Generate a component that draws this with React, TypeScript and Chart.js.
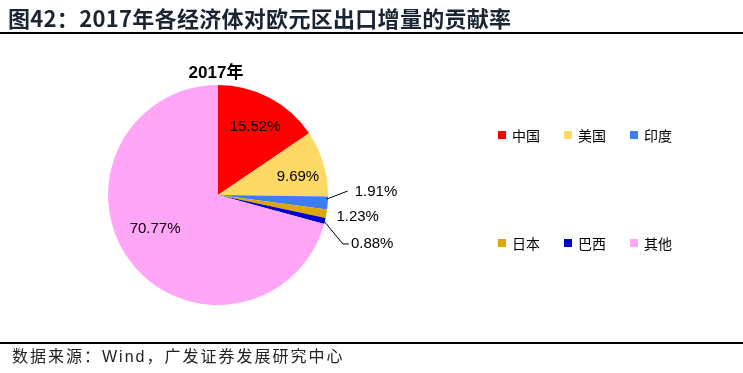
import React, { useEffect, useRef } from "react";
import { Chart, registerables } from "chart.js";

Chart.register(...registerables);

const categories = ["中国", "美国", "印度", "日本", "巴西", "其他"];
const values = [15.52, 9.69, 1.91, 1.23, 0.88, 70.77];
const valueLabels = ["15.52%", "9.69%", "1.91%", "1.23%", "0.88%", "70.77%"];
const colors = ["#FF0000", "#FFD966", "#3C7DF2", "#E0A700", "#0000CC", "#FFA6F7"];

const chartTitle = "2017年";
const pageTitle = "图42：2017年各经济体对欧元区出口增量的贡献率";
const sourceText = "数据来源：Wind，广发证券发展研究中心";

// label placement style: inside labels (fraction of radius, angle deg from top)
const insideLabel: Record<number, { f: number; a: number }> = {
  0: { f: 0.704, a: 28.6 },
  1: { f: 0.745, a: 77.3 },
  5: { f: 0.65, a: 241.6 },
};

const CJK = "'Noto Sans CJK SC', sans-serif";
const LAT = "'Liberation Sans', Arial, 'Noto Sans CJK SC', sans-serif";

const labelPlugin = {
  id: "customLabels",
  afterDraw(chart: any) {
    const ctx: CanvasRenderingContext2D = chart.ctx;
    const meta = chart.getDatasetMeta(0);
    const arc0 = meta.data[0];
    const cx = arc0.x;
    const cy = arc0.y;
    const r = arc0.outerRadius;
    ctx.save();
    // chart title
    ctx.fillStyle = "#000";
    ctx.font = `bold 17px ${LAT}`;
    ctx.textAlign = "center";
    ctx.textBaseline = "middle";
    ctx.fillText(chartTitle, cx - 2, cy - 122);

    ctx.font = `15px ${LAT}`;
    meta.data.forEach((arc: any, i: number) => {
      const lab = insideLabel[i];
      if (lab) {
        const a = (lab.a * Math.PI) / 180;
        const x = cx + r * lab.f * Math.sin(a);
        const y = cy - r * lab.f * Math.cos(a);
        ctx.textAlign = "center";
        ctx.fillStyle = "#000";
        ctx.fillText(valueLabels[i], x, y);
        return;
      }
      const mid = (arc.startAngle + arc.endAngle) / 2;
      const ex = cx + r * Math.cos(mid);
      const ey = cy + r * Math.sin(mid);
      ctx.strokeStyle = "#000";
      ctx.lineWidth = 1;
      ctx.textAlign = "left";
      ctx.fillStyle = "#000";
      if (i === 2) {
        ctx.beginPath();
        ctx.moveTo(ex - 1, ey - 4);
        ctx.lineTo(ex + 20, ey - 12);
        ctx.stroke();
        ctx.fillText(valueLabels[i], ex + 27, ey - 11);
      } else if (i === 3) {
        ctx.fillText(valueLabels[i], ex + 10, ey + 3);
      } else if (i === 4) {
        ctx.beginPath();
        ctx.moveTo(ex - 1, ey);
        ctx.lineTo(ex + 18, ey + 23);
        ctx.lineTo(ex + 24, ey + 23);
        ctx.stroke();
        ctx.fillText(valueLabels[i], ex + 26, ey + 23);
      }
    });

    // legend
    const colX = [498, 564, 630];
    const rowY = [135, 243];
    ctx.font = `14px ${CJK}`;
    ctx.textBaseline = "middle";
    categories.forEach((c, i) => {
      const x = colX[i % 3];
      const y = rowY[Math.floor(i / 3)];
      ctx.fillStyle = colors[i];
      ctx.fillRect(x, y - 4, 8, 8);
      ctx.fillStyle = "#000";
      ctx.textAlign = "left";
      ctx.fillText(c, x + 14, y + 1);
    });
    ctx.restore();
  },
};

export default function App() {
  const ref = useRef<HTMLCanvasElement | null>(null);
  useEffect(() => {
    document.body.style.margin = "0";
    const chart = new Chart(ref.current as HTMLCanvasElement, {
      type: "pie",
      data: {
        labels: categories,
        datasets: [
          {
            data: values,
            backgroundColor: colors,
            borderWidth: 0,
          },
        ],
      },
      options: {
        animation: false,
        responsive: false,
        maintainAspectRatio: false,
        layout: { padding: { left: 108, right: 415, top: 85, bottom: 68 } },
        plugins: {
          legend: { display: false },
          tooltip: { enabled: false },
          title: { display: false },
        },
      },
      plugins: [labelPlugin],
    });
    return () => chart.destroy();
  }, []);

  return (
    <div style={{ position: "relative", width: 743, height: 373, background: "#fff", overflow: "hidden" }}>
      <canvas ref={ref} width={743} height={373} style={{ position: "absolute", left: 0, top: 0 }} />
      <div
        style={{
          position: "absolute",
          left: 8,
          top: 3,
          fontFamily: CJK,
          fontWeight: "bold",
          fontSize: 22,
          color: "#1B2433",
          whiteSpace: "nowrap",
          lineHeight: "28px",
          letterSpacing: 0.3,
        }}
      >
        {pageTitle}
      </div>
      <div style={{ position: "absolute", left: 0, top: 32, width: 743, height: 1.5, background: "#000" }} />
      <div style={{ position: "absolute", left: 0, top: 342, width: 743, height: 1.5, background: "#000" }} />
      <div
        style={{
          position: "absolute",
          left: 12,
          top: 346,
          fontFamily: LAT,
          fontSize: 16,
          color: "#222",
          whiteSpace: "nowrap",
          lineHeight: "22px",
          letterSpacing: 2,
        }}
      >
        {sourceText}
      </div>
    </div>
  );
}
